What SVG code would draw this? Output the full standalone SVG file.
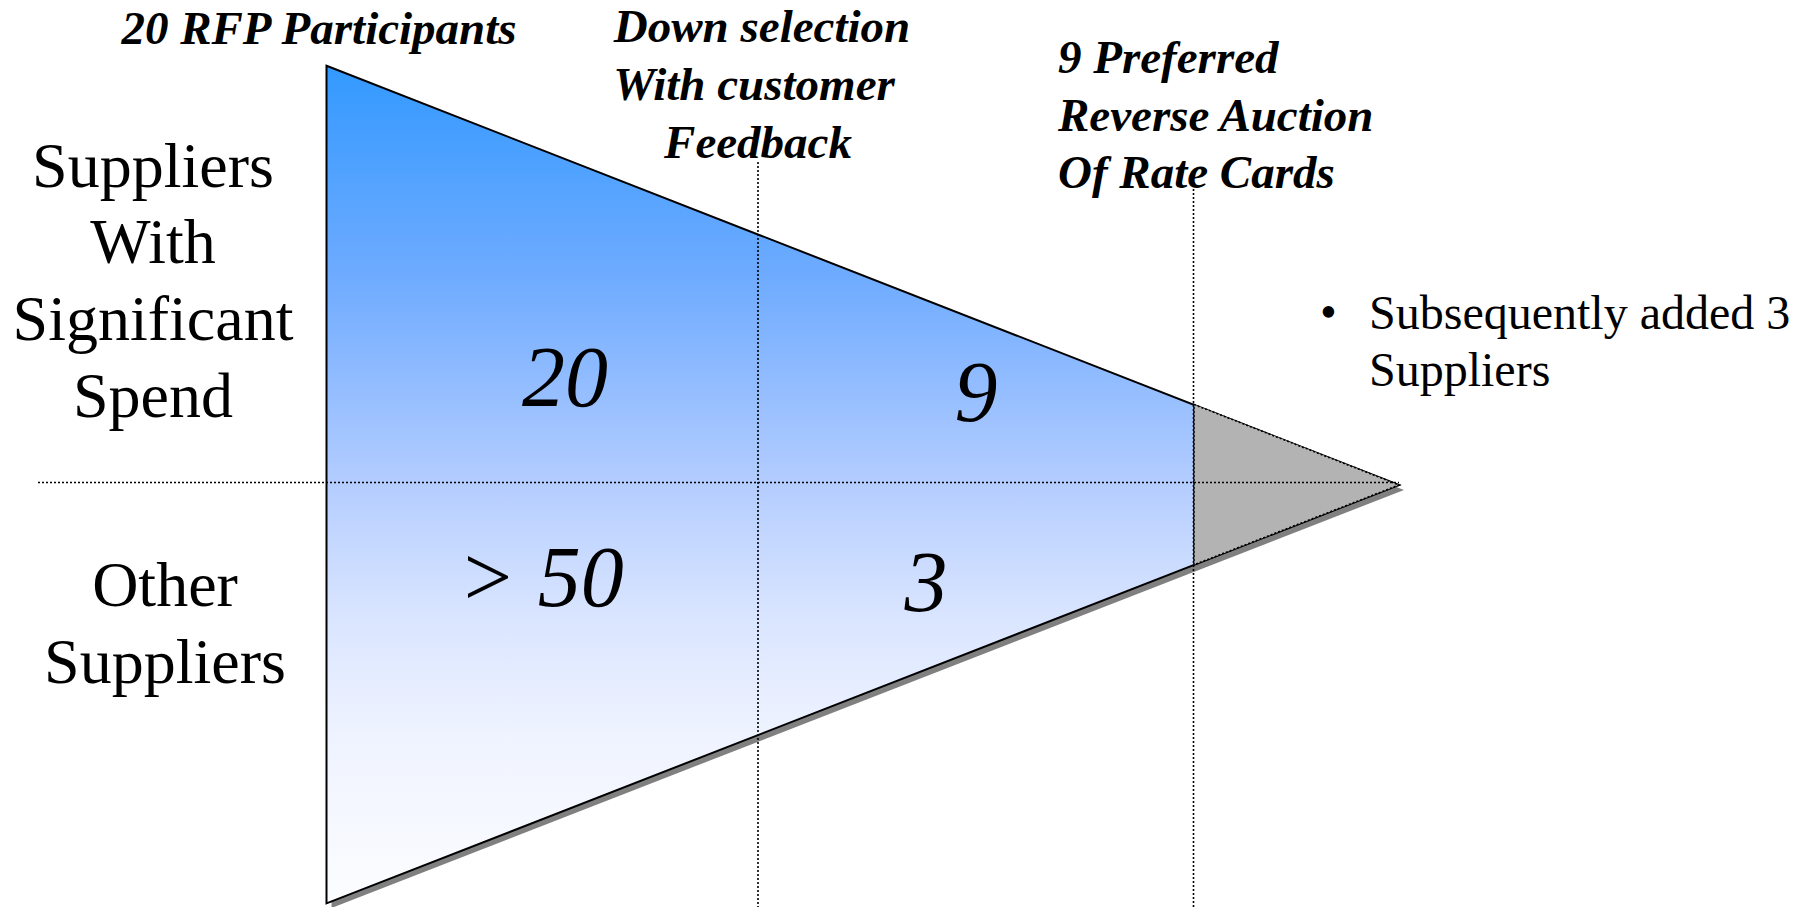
<svg xmlns="http://www.w3.org/2000/svg" width="1809" height="907" viewBox="0 0 1809 907">
<defs>
<linearGradient id="fill" x1="0" y1="66" x2="0" y2="903" gradientUnits="userSpaceOnUse">
<stop offset="0" stop-color="#3399ff"/>
<stop offset="0.25" stop-color="#6eabff"/>
<stop offset="0.5" stop-color="#b4cdff"/>
<stop offset="0.65" stop-color="#d8e4ff"/>
<stop offset="0.8" stop-color="#eff3ff"/>
<stop offset="1" stop-color="#fcfdff"/>
</linearGradient>
<style>
.hdr{font-family:"Liberation Serif","Times New Roman",serif;font-weight:bold;font-style:italic;font-size:47px;fill:#000}
.lbl{font-family:"Liberation Serif","Times New Roman",serif;font-size:64px;fill:#000}
.num{font-family:"Liberation Serif","Times New Roman",serif;font-style:italic;font-size:86px;fill:#000}
.note{font-family:"Liberation Serif","Times New Roman",serif;font-size:48px;fill:#000}
.dot{stroke:#000;stroke-width:1.6;stroke-dasharray:2 2;fill:none}
</style>
</defs>
<rect width="1809" height="907" fill="#ffffff"/>
<g id="funnel">
<polygon points="331.5,70.8 1404,490 331.5,908" fill="#808080"/>
<polygon points="326.5,65.8 1399,485 326.5,903.4" fill="url(#fill)" stroke="#000" stroke-width="2" stroke-linejoin="miter"/>
<polygon points="1194,404.5 1399,485 1194,564.8" fill="#b3b3b3" stroke="#000" stroke-width="1.6" stroke-dasharray="2 2"/>
</g>
<g id="connectors">
<line class="dot" x1="38" y1="482.5" x2="1399" y2="482.5"/>
<line class="dot" x1="758" y1="162" x2="758" y2="907"/>
<line class="dot" x1="1193.5" y1="185" x2="1193.5" y2="907"/>
</g>
<g id="stage1">
<text class="hdr" x="319" y="44" text-anchor="middle">20 RFP Participants</text>
</g>
<g id="stage2">
<text class="hdr" text-anchor="middle"><tspan x="762" y="42">Down selection</tspan><tspan x="754" y="100">With customer</tspan><tspan x="758" y="158">Feedback</tspan></text>
</g>
<g id="stage3">
<text class="hdr"><tspan x="1058" y="73">9 Preferred</tspan><tspan x="1058" y="131">Reverse Auction</tspan><tspan x="1058" y="188">Of Rate Cards</tspan></text>
</g>
<g id="row-significant">
<text class="lbl" text-anchor="middle"><tspan x="153" y="187">Suppliers</tspan><tspan x="153" y="263">With</tspan><tspan x="153" y="340">Significant</tspan><tspan x="153" y="417">Spend</tspan></text>
</g>
<g id="row-other">
<text class="lbl" text-anchor="middle"><tspan x="165" y="606">Other</tspan><tspan x="165" y="683">Suppliers</tspan></text>
</g>
<g id="counts">
<text class="num" x="565" y="406" text-anchor="middle">20</text>
<text class="num" x="976" y="421" text-anchor="middle">9</text>
<text class="num" x="541" y="606" text-anchor="middle">&gt; 50</text>
<text class="num" x="926" y="611" text-anchor="middle">3</text>
</g>
<g id="note">
<text class="note" x="1320" y="328">•</text>
<text class="note"><tspan x="1369" y="329">Subsequently added 3</tspan><tspan x="1369" y="386">Suppliers</tspan></text>
</g>
</svg>
